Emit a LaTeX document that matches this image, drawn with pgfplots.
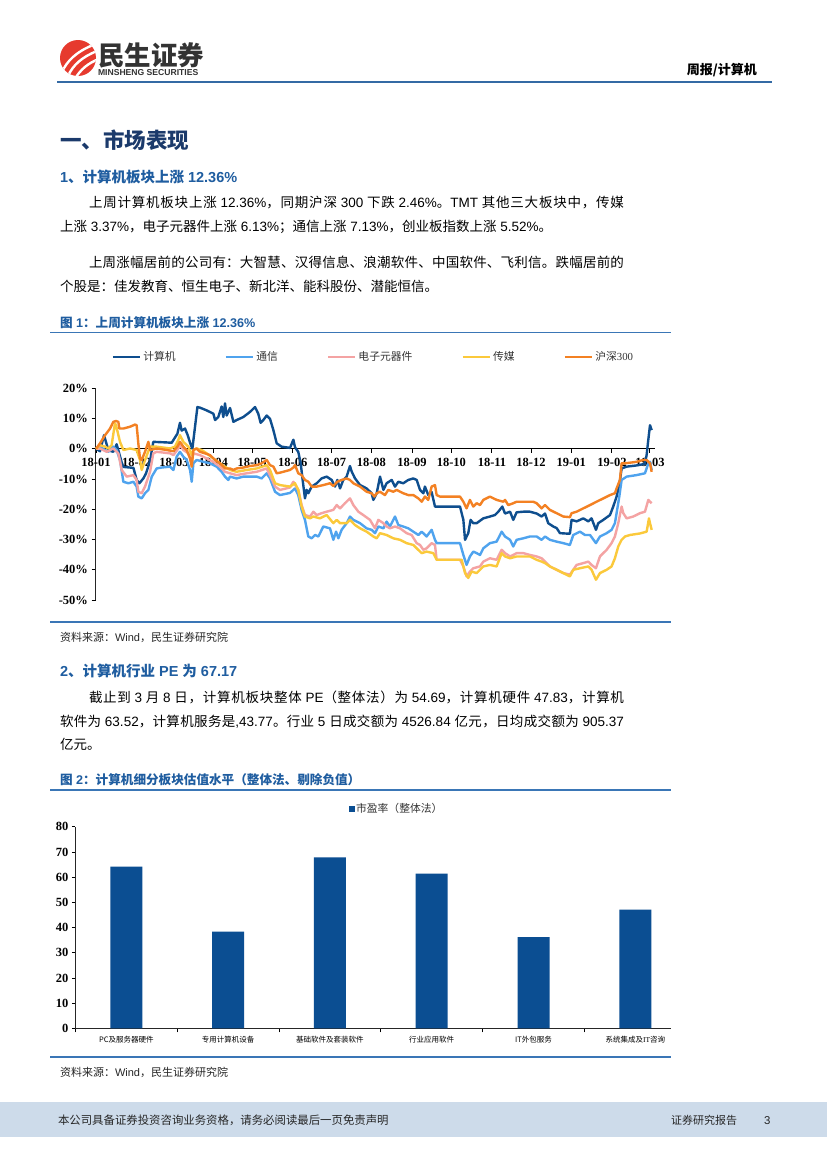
\documentclass[border=0pt]{standalone}
\usepackage{fontspec}
\usepackage{pgfplots}
\pgfplotsset{compat=1.18}
\setmainfont{Liberation Sans}
\newfontfamily\cjk{Noto Sans CJK SC}
\newfontfamily\tnr{Liberation Serif}
% automatic CJK font switching
\XeTeXinterchartokenstate=1
\newXeTeXintercharclass\cjkcls
\newcount\cc
\cc="3000 \loop\XeTeXcharclass\cc=\cjkcls\advance\cc by 1 \ifnum\cc<"3040 \repeat
\cc="4E00 \loop\XeTeXcharclass\cc=\cjkcls\advance\cc by 1 \ifnum\cc<"A000 \repeat
\cc="FF00 \loop\XeTeXcharclass\cc=\cjkcls\advance\cc by 1 \ifnum\cc<"FFF0 \repeat
\def\latf{}
\def\cjkon{\cjk}
\def\cjkglue{\hskip0pt plus 1fil\relax}
\XeTeXinterchartoks 0 \cjkcls = {\cjkon}
\XeTeXinterchartoks 4095 \cjkcls = {\cjkon}
\XeTeXinterchartoks \cjkcls 0 = {\latf}
\XeTeXinterchartoks \cjkcls 4095 = {\latf}
\XeTeXinterchartoks \cjkcls \cjkcls = {\cjkglue}

\definecolor{navy}{HTML}{1B3A6B}
\definecolor{hblue}{HTML}{1F5DA0}
\definecolor{rulec}{HTML}{3A76B6}
\definecolor{band}{HTML}{CDDBEA}
\definecolor{logored}{HTML}{E63A2E}
\definecolor{cJ}{HTML}{0E4E8E}
\definecolor{cT}{HTML}{4FA3EE}
\definecolor{cD}{HTML}{F4A3A3}
\definecolor{cC}{HTML}{FBC93B}
\definecolor{cH}{HTML}{F38123}
\definecolor{cbar}{HTML}{0B4E92}

\newcommand\bodyfont{\def\latf{\rmfamily}\rmfamily\fontsize{13.5bp}{16bp}\selectfont}
\newcommand\srcfont{\def\latf{\rmfamily}\rmfamily\fontsize{11bp}{13bp}\selectfont\color{black!85}}
\newcommand\legfont{\def\latf{\tnr}\cjk\fontsize{10.8bp}{12bp}\selectfont\color{black!80}}
\newcommand\catfont{\def\latf{\tnr}\cjk\fontsize{7.5bp}{9bp}\selectfont}
\newcommand\tickfont{\tnr\bfseries\fontsize{12.5bp}{14bp}\selectfont}

\begin{document}
\begin{tikzpicture}[txt/.style={anchor=base west, inner sep=0pt, outer sep=0pt}]
\path[use as bounding box] (0bp,0bp) rectangle (827bp,-1169bp);
\fill[white] (0bp,0bp) rectangle (827bp,-1169bp);

% ---------- header ----------
\fill[logored] (78bp,-58bp) circle (18bp);
\begin{scope}
\clip (78bp,-58bp) circle (18bp);
\draw[white, line width=2.4bp] (62bp,-72bp) .. controls (67bp,-61bp) and (76bp,-52bp) .. (93bp,-45bp);
\draw[white, line width=2.4bp] (68bp,-76bp) .. controls (73bp,-65bp) and (82bp,-57bp) .. (97bp,-51bp);
\draw[white, line width=2.4bp] (75bp,-79bp) .. controls (80bp,-70bp) and (88bp,-63bp) .. (99bp,-59bp);
\end{scope}
\node[txt, text=black!80] at (98bp,-65bp) {\cjk\bfseries\fontsize{26.5bp}{28bp}\selectfont 民生证券};
\node[txt, text=black!80] at (98bp,-75.5bp) {\bfseries\fontsize{8.6bp}{9bp}\selectfont MINSHENG SECURITIES};
\node[anchor=base east, inner sep=0pt] at (757bp,-74bp) {\def\latf{\cjk}\cjk\bfseries\fontsize{13bp}{15bp}\selectfont 周报/计算机};
\draw[color=rulec!90!black, line width=2.6bp] (57bp,-82bp) -- (772bp,-82bp);

% ---------- section 1 ----------
\node[txt, text=navy] at (60bp,-148bp) {\cjk\bfseries\fontsize{21.5bp}{24bp}\selectfont 一、市场表现};
\node[txt, text=hblue] at (60bp,-182bp) {\def\latf{\rmfamily}\rmfamily\bfseries\fontsize{14.5bp}{16bp}\selectfont 1、计算机板块上涨 12.36\%};
\node[txt] at (89bp,-207bp) {\bodyfont\hbox to 535bp{上周计算机板块上涨 12.36\%，同期沪深 300 下跌 2.46\%。TMT 其他三大板块中，传媒}};
\node[txt] at (60bp,-231bp) {\bodyfont 上涨 3.37\%，电子元器件上涨 6.13\%；通信上涨 7.13\%，创业板指数上涨 5.52\%。};
\node[txt] at (89bp,-267bp) {\bodyfont\hbox to 535bp{上周涨幅居前的公司有：大智慧、汉得信息、浪潮软件、中国软件、飞利信。跌幅居前的}};
\node[txt] at (60bp,-291bp) {\bodyfont 个股是：佳发教育、恒生电子、新北洋、能科股份、潜能恒信。};
\node[txt, text=hblue] at (60bp,-327bp) {\def\latf{\rmfamily}\rmfamily\bfseries\fontsize{12.6bp}{14bp}\selectfont 图 1：上周计算机板块上涨 12.36\%};
\draw[rulec, line width=1.6bp] (50bp,-332.5bp) -- (671bp,-332.5bp);

% ---------- chart 1 ----------
\begin{axis}[
  at={(95.5bp,-600bp)}, anchor=south west,
  scale only axis, width=559bp, height=211.7bp,
  xmin=-0.4, xmax=433, ymin=-50, ymax=20,
  axis x line=middle, axis y line=left,
  axis line style={-},
  x axis line style={line width=1.3bp, black},
  y axis line style={line width=1.8bp, black!85},
  hide obscured x ticks=false, hide obscured y ticks=false,
  xtick={0,31.5,60.5,91,121,152.5,182.7,213.5,245,275.5,307,337.3,368.5,400,429.5},
  xticklabels={18-01,18-02,18-03,18-04,18-05,18-06,18-07,18-08,18-09,18-10,18-11,18-12,19-01,19-02,19-03},
  ytick={-50,-40,-30,-20,-10,0,10,20},
  yticklabels={-50\%,-40\%,-30\%,-20\%,-10\%,0\%,10\%,20\%},
  tick align=outside, major tick length=4bp,
  tick style={black, line width=1bp},
  tick label style={font=\tickfont},
  xticklabel style={yshift=-2bp},
  clip=false, no markers,
  every axis plot/.append style={line width=2.4bp, line join=round},
  legend style={at={(0.0286,1.148)}, anchor=west, draw=none, fill=none,
    inner sep=0pt, font=\legfont, nodes={inner sep=2bp},
    /tikz/every even column/.append style={column sep=47bp}},
  legend columns=5,
  legend image code/.code={\draw[#1, line width=2.6bp] (0bp,0bp) -- (27bp,0bp);}
]
\addplot[cJ] coordinates {(0,0) (3.1,-0.8) (6.2,4.5) (9.6,-0.5) (13.4,-1.0) (16,1.5) (19.9,-4.5) (21.2,-6.0) (29.0,-6.3) (31.5,-10.3) (33.6,-11.4) (36.7,-9.8) (38.8,-8.1) (41.9,-4.0) (44.4,2.3) (54.8,2.1) (58.7,2.0) (60.0,2.9) (63.1,5.0) (65.1,8.6) (66.4,6.0) (69.0,6.7) (71.1,4.5) (72.9,2.0) (74.7,0.0) (78.6,13.8) (80.6,13.6) (85.8,12.7) (91.0,11.6) (92.3,9.5) (94.8,10.5) (97.4,14.0) (98.7,10.5) (100.0,15.0) (101.3,11.0) (103.9,13.5) (106.5,8.9) (109.0,9.5) (114.2,10.5) (119.4,12.2) (123.3,13.8) (125.8,11.6) (127.6,8.6) (129.7,9.5) (132.3,11.0) (134.9,9.9) (137.5,6.2) (140.1,1.8) (143.9,0.7) (150.4,0.3) (153.0,3.0) (154.3,0.5) (156.8,-1.0) (158.7,-4.8) (160.2,-10.3) (162.0,-16.4) (163.3,-13.6) (164.6,-14.7) (167.2,-12.5) (171.1,-11.4) (174.9,-9.8) (178.8,-9.2) (182.7,-10.3) (185.3,-12.5) (187.1,-10.3) (189.2,-13.1) (191.7,-10.3) (194.3,-9.2) (196.9,-5.7) (198.2,-7.5) (200.8,-9.8) (204.7,-12.0) (209.8,-13.1) (213.7,-14.7) (215.0,-16.9) (217.6,-14.7) (220.2,-9.2) (222.8,-13.6) (225.3,-11.4) (229.2,-10.3) (231.8,-12.5) (234.4,-10.9) (238.2,-11.4) (242.1,-10.3) (246.0,-9.8) (248.6,-10.3) (251.2,-13.6) (253.8,-14.7) (255.0,-12.5) (257.6,-15.3) (260.2,-14.3) (262.8,-19.1) (266.7,-19.1) (282.2,-19.1) (284.8,-23.5) (286.1,-30.1) (288.6,-27.9) (290.4,-23.5) (292.5,-24.6) (295.1,-24.6) (300.3,-23.0) (305.4,-22.4) (309.3,-21.9) (311.9,-20.8) (315.0,-19.1) (317.1,-21.4) (321.0,-20.8) (323.5,-23.5) (326.1,-21.0) (331.3,-20.8) (336.4,-20.8) (341.6,-21.4) (345.5,-22.4) (348.1,-21.4) (350.6,-24.6) (354.5,-25.7) (357.1,-26.2) (359.7,-27.9) (367.4,-28.1) (368.7,-23.5) (372.6,-24.0) (377.8,-23.0) (381.7,-24.0) (384.2,-23.0) (387.6,-26.8) (389.4,-24.6) (393.3,-23.5) (398.5,-21.9) (401.0,-19.1) (403.6,-15.8) (405.7,-12.0) (407.5,-6.5) (411.4,-5.9) (419.1,-5.5) (425.6,-5.0) (426.9,-2.0) (428.2,3.0) (429.5,7.8) (430.8,6.2)};
\addlegendentry{计算机}
\addplot[cT] coordinates {(0,0) (3.1,0.7) (7.0,-0.4) (9.6,-1.0) (13.4,0.7) (16,-0.4) (18.6,-3.7) (21.2,-10.9) (25.1,-11.4) (29.0,-10.9) (31.5,-12.5) (32.8,-15.8) (35.4,-16.4) (38.0,-14.7) (40.6,-13.6) (43.2,-9.2) (47.0,-6.5) (50.9,-6.2) (57.4,-5.9) (60.0,-7.0) (62.5,-2.6) (65.1,-1.0) (67.7,-2.6) (70.3,-3.7) (72.9,-7.0) (74.2,-10.9) (75.5,-4.8) (78.0,-3.7) (83.2,-4.3) (88.4,-4.8) (93.5,-5.9) (97.4,-7.6) (100.0,-9.2) (102.6,-10.3) (103.9,-9.2) (109.0,-9.8) (114.2,-9.2) (119.4,-9.2) (124.6,-9.2) (128.4,-9.8) (132.3,-8.1) (134.9,-9.8) (138.8,-14.2) (142.6,-15.3) (150.4,-14.6) (154.3,-13.1) (156.8,-15.3) (159.4,-20.2) (162.0,-23.5) (164.6,-29.0) (167.2,-29.6) (169.8,-28.5) (172.4,-29.0) (176.2,-25.7) (181.4,-26.3) (184.0,-30.1) (186.1,-27.4) (187.9,-29.6) (190.4,-26.8) (194.3,-24.6) (196.9,-22.4) (199.5,-23.5) (204.7,-24.6) (209.8,-26.3) (213.7,-26.8) (216.3,-27.9) (218.9,-25.7) (222.8,-26.3) (225.3,-24.1) (227.9,-25.7) (231.8,-22.4) (234.4,-25.2) (238.2,-25.7) (242.1,-26.3) (246.0,-27.4) (249.9,-28.5) (252.5,-27.4) (256.3,-29.0) (260.2,-26.8) (262.8,-30.1) (264.1,-31.2) (282.2,-31.2) (284.8,-35.1) (287.3,-38.4) (289.9,-35.6) (292.5,-34.0) (295.1,-34.5) (297.7,-35.1) (300.3,-32.9) (305.4,-31.2) (310.6,-30.7) (314.5,-27.4) (317.1,-29.0) (321.0,-30.1) (323.5,-32.3) (326.1,-30.1) (331.3,-29.6) (336.4,-29.0) (341.6,-29.0) (345.5,-30.1) (348.1,-29.0) (351.9,-30.1) (357.1,-30.7) (362.3,-31.2) (367.4,-31.8) (370.0,-28.5) (375.2,-27.4) (379.1,-28.5) (383.0,-28.5) (387.6,-31.2) (390.7,-29.0) (395.9,-27.9) (399.7,-26.8) (402.3,-24.6) (403.6,-21.3) (405.7,-15.8) (407.5,-10.3) (411.4,-9.2) (419.1,-8.7) (425.6,-8.1) (428.2,-4.8) (429.5,-4.3) (430.8,-7.0)};
\addlegendentry{通信}
\addplot[cD] coordinates {(0,0) (3.1,0.1) (8.3,-1.0) (13.4,0.1) (17.3,-1.5) (19.9,-7.0) (23.8,-9.2) (29.0,-8.7) (31.5,-10.3) (32.8,-14.2) (35.4,-14.7) (38.0,-12.5) (41.9,-7.6) (44.4,-1.5) (47.0,-1.0) (57.4,-1.5) (60.0,-2.1) (63.8,0.1) (65.1,1.2) (67.7,-0.4) (71.6,-1.5) (74.2,-4.3) (75.5,-1.5) (80.6,-2.1) (85.8,-3.2) (91.0,-4.3) (96.1,-5.9) (100.0,-7.6) (103.9,-8.1) (109.0,-8.7) (116.8,-8.1) (124.6,-7.6) (132.3,-6.5) (134.9,-8.7) (138.8,-12.5) (142.6,-13.6) (150.4,-12.8) (153.0,-10.9) (156.8,-13.6) (159.4,-18.6) (162.0,-21.9) (165.9,-22.4) (168.5,-20.8) (171.1,-21.9) (174.9,-21.3) (178.8,-20.8) (184.0,-20.2) (186.6,-18.6) (189.2,-19.7) (193.0,-18.0) (196.9,-16.4) (199.5,-18.6) (203.4,-20.8) (207.2,-21.9) (212.4,-23.5) (216.3,-26.3) (218.9,-23.5) (222.8,-24.6) (225.3,-25.7) (227.9,-26.3) (231.8,-25.7) (235.7,-26.3) (240.8,-27.9) (244.7,-28.5) (248.6,-31.2) (251.2,-31.8) (253.8,-33.4) (256.3,-32.9) (260.2,-31.2) (262.8,-31.8) (264.1,-36.7) (282.2,-36.7) (284.8,-38.9) (287.3,-42.2) (289.9,-40.6) (292.5,-39.5) (297.7,-38.9) (300.3,-37.3) (305.4,-36.2) (310.6,-36.7) (314.5,-33.4) (317.1,-34.5) (321.0,-35.6) (323.5,-35.1) (326.1,-34.5) (331.3,-34.5) (336.4,-35.1) (341.6,-35.6) (345.5,-36.2) (348.1,-37.3) (351.9,-38.9) (357.1,-40.0) (362.3,-41.1) (367.4,-41.6) (370.0,-40.0) (372.6,-38.4) (377.8,-37.8) (381.7,-37.3) (384.2,-38.4) (387.6,-39.5) (390.7,-35.6) (395.9,-33.4) (399.7,-31.2) (402.3,-29.0) (404.9,-24.6) (407.5,-19.1) (408.8,-21.3) (411.4,-23.0) (416.5,-22.4) (421.7,-21.3) (425.6,-20.8) (428.2,-16.9) (429.5,-17.5) (430.8,-18.0)};
\addlegendentry{电子元器件}
\addplot[cC] coordinates {(0,0) (3.1,1.2) (7.0,0.7) (9.6,0.1) (12.1,1.2) (14.7,8.4) (15.5,7.8) (18.6,2.3) (21.2,-0.4) (26.4,0.1) (31.5,-0.4) (34.1,-3.7) (35.4,-7.0) (38.0,-3.7) (41.9,0.7) (47.0,0.7) (57.4,0.1) (61.2,0.7) (63.8,2.9) (65.1,4.5) (67.7,2.3) (71.6,0.7) (74.2,-2.1) (75.5,-0.4) (78.0,0.1) (81.9,-0.4) (85.8,-1.5) (91.0,-3.2) (96.1,-4.8) (100.0,-5.9) (103.9,-7.0) (109.0,-7.6) (116.8,-7.0) (124.6,-6.5) (132.3,-5.4) (134.9,-7.0) (138.8,-11.4) (142.6,-12.0) (150.4,-12.5) (154.3,-11.4) (156.8,-13.6) (159.4,-19.1) (162.0,-22.4) (165.9,-23.0) (168.5,-22.4) (173.6,-23.0) (178.8,-21.9) (184.0,-24.6) (186.6,-23.5) (189.2,-24.6) (194.3,-24.6) (196.9,-23.5) (200.8,-25.2) (204.7,-26.3) (209.8,-27.4) (215.0,-29.0) (217.6,-29.6) (220.2,-27.9) (225.3,-28.5) (230.5,-29.6) (235.7,-30.1) (240.8,-31.2) (246.0,-31.8) (248.6,-32.9) (252.5,-34.5) (256.3,-34.0) (261.5,-34.5) (264.1,-36.7) (283.5,-36.7) (286.1,-41.1) (288.6,-42.7) (291.2,-40.6) (295.1,-41.1) (297.7,-40.0) (300.3,-38.9) (305.4,-38.4) (310.6,-38.9) (314.5,-34.5) (317.1,-35.6) (321.0,-36.2) (326.1,-35.6) (331.3,-35.6) (336.4,-35.6) (341.6,-36.7) (345.5,-37.3) (348.1,-37.8) (351.9,-38.9) (357.1,-40.0) (362.3,-41.1) (367.4,-42.2) (370.0,-40.0) (375.2,-39.5) (381.7,-38.9) (384.2,-40.0) (387.6,-43.3) (390.7,-41.1) (395.9,-40.0) (399.7,-38.9) (402.3,-36.2) (404.9,-32.3) (407.5,-30.1) (410.1,-29.0) (414.0,-28.5) (421.7,-28.0) (426.9,-27.4) (428.7,-23.0) (429.5,-24.6) (430.8,-26.8)};
\addlegendentry{传媒}
\addplot[cH] coordinates {(0,0) (3.1,1.8) (7.0,4.5) (10.9,6.7) (13.4,8.9) (15.5,9.2) (17.3,8.9) (18.1,6.7) (21.2,6.7) (26.4,7.3) (30.2,8.0) (31.5,7.8) (32.8,1.8) (34.1,-3.2) (35.4,-3.7) (38.0,-1.0) (40.6,2.3) (41.9,-0.4) (47.0,0.1) (54.8,-0.4) (60.0,-0.8) (63.1,0.7) (65.1,2.3) (67.7,0.7) (70.3,-0.4) (72.9,-3.2) (74.2,-5.9) (75.5,-0.4) (78.0,0.1) (80.6,-1.0) (84.5,-1.5) (88.4,-2.1) (92.3,-3.7) (96.1,-4.8) (100.0,-6.5) (103.9,-6.5) (106.5,-7.0) (109.0,-6.5) (114.2,-6.2) (119.4,-5.7) (124.6,-5.4) (128.4,-4.8) (132.3,-3.7) (134.9,-5.4) (137.5,-5.9) (140.1,-8.1) (142.6,-7.9) (145.2,-7.6) (150.4,-7.0) (153.0,-6.2) (154.3,-5.4) (156.8,-8.1) (159.4,-8.7) (162.0,-10.3) (164.6,-10.9) (167.2,-12.5) (171.1,-12.5) (176.2,-12.0) (181.4,-11.4) (184.0,-12.3) (187.1,-10.9) (190.4,-10.3) (194.3,-9.8) (196.9,-10.3) (199.5,-11.4) (204.7,-12.5) (209.8,-14.2) (213.7,-14.7) (215.8,-15.8) (217.6,-14.7) (220.2,-14.2) (224.0,-15.3) (226.6,-13.6) (230.5,-14.2) (233.1,-13.6) (238.2,-14.7) (242.1,-15.3) (246.0,-15.3) (249.9,-16.4) (252.5,-17.5) (255.0,-15.8) (257.6,-16.9) (260.2,-12.5) (262.8,-12.0) (264.1,-15.3) (266.7,-15.8) (282.2,-15.8) (284.8,-17.5) (287.3,-19.7) (289.9,-16.9) (292.5,-19.1) (295.1,-18.0) (297.7,-18.6) (300.3,-16.9) (305.4,-15.8) (310.6,-16.9) (315.8,-17.5) (317.1,-16.9) (319.6,-18.6) (323.5,-18.0) (326.1,-17.5) (331.3,-17.5) (339.0,-17.5) (341.6,-18.0) (345.5,-19.7) (348.1,-18.6) (351.9,-20.2) (357.1,-21.3) (362.3,-22.4) (367.4,-22.6) (368.7,-21.3) (372.6,-20.8) (377.8,-19.7) (383.0,-18.6) (388.1,-17.5) (393.3,-16.4) (398.5,-15.3) (402.3,-14.7) (403.6,-13.1) (406.2,-10.3) (407.5,-4.8) (410.1,-4.8) (414.0,-4.6) (419.1,-4.3) (424.3,-3.7) (426.9,-3.7) (429.5,-4.8) (430.8,-7.6)};
\addlegendentry{沪深300}
\end{axis}

\draw[rulec, line width=1.6bp] (50bp,-621.7bp) -- (671bp,-621.7bp);
\node[txt] at (60bp,-641bp) {\srcfont 资料来源：Wind，民生证券研究院};

% ---------- section 2 ----------
\node[txt, text=hblue] at (60bp,-676bp) {\def\latf{\rmfamily}\rmfamily\bfseries\fontsize{14.5bp}{16bp}\selectfont 2、计算机行业 PE 为 67.17};
\node[txt] at (89bp,-702bp) {\bodyfont\hbox to 535bp{截止到 3 月 8 日，计算机板块整体 PE（整体法）为 54.69，计算机硬件 47.83，计算机}};
\node[txt] at (60bp,-726bp) {\bodyfont\hbox to 564bp{软件为 63.52，计算机服务是,43.77。行业 5 日成交额为 4526.84 亿元，日均成交额为 905.37}};
\node[txt] at (60bp,-749bp) {\bodyfont 亿元。};
\node[txt, text=hblue] at (60bp,-784bp) {\def\latf{\rmfamily}\rmfamily\bfseries\fontsize{12.6bp}{14bp}\selectfont 图 2：计算机细分板块估值水平（整体法、剔除负值）};
\draw[rulec, line width=1.6bp] (50bp,-790bp) -- (671bp,-790bp);

% ---------- chart 2 ----------
\begin{axis}[
  at={(75.4bp,-1028.3bp)}, anchor=south west,
  scale only axis, width=595.6bp, height=201.6bp,
  xmin=-0.5, xmax=5.35, ymin=0, ymax=80,
  axis lines=left, axis line style={-, line width=1.2bp, black!85},
  ybar, bar width=32bp,
  xtick={0,1,2,3,4,5},
  xticklabels={PC及服务器硬件,专用计算机设备,基础软件及套装软件,行业应用软件,IT外包服务,系统集成及IT咨询},
  xticklabel style={font=\catfont, yshift=-1bp},
  major x tick style={draw=none},
  minor xtick={-0.5,0.5,1.5,2.5,3.5,4.5},
  minor x tick style={black, line width=0.8bp},
  ytick={0,10,20,30,40,50,60,70,80},
  yticklabels={0,10,20,30,40,50,60,70,80},
  yticklabel style={font=\tickfont},
  major y tick style={black, line width=0.8bp},
  tick align=outside, major tick length=3.5bp, minor tick length=4bp,
  clip=false,
  legend style={at={(0.459,1.088)}, anchor=west, draw=none, fill=none,
    inner sep=0pt, font=\legfont, nodes={inner sep=1.5bp}},
  legend image code/.code={\fill[cbar] (0bp,-2.6bp) rectangle (5.6bp,2.9bp);}
]
\addplot[fill=cbar, draw=none] coordinates {(0,64.2) (1,38.4) (2,67.8) (3,61.4) (4,36.2) (5,47.1)};
\addlegendentry{市盈率（整体法）}
\end{axis}

\draw[rulec, line width=1.6bp] (50bp,-1056.7bp) -- (671bp,-1056.7bp);
\node[txt] at (60bp,-1076bp) {\srcfont 资料来源：Wind，民生证券研究院};

% ---------- footer ----------
\fill[band] (0bp,-1102bp) rectangle (827bp,-1137bp);
\node[txt] at (58bp,-1124bp) {\def\latf{\rmfamily}\cjk\fontsize{11.4bp}{13bp}\selectfont\color{black!85}本公司具备证券投资咨询业务资格，请务必阅读最后一页免责声明};
\node[txt] at (671bp,-1124bp) {\cjk\fontsize{11bp}{13bp}\selectfont\color{black!85}证券研究报告};
\node[txt] at (764bp,-1124bp) {\fontsize{11.4bp}{13bp}\selectfont\color{black!85}3};
\end{tikzpicture}
\end{document}
